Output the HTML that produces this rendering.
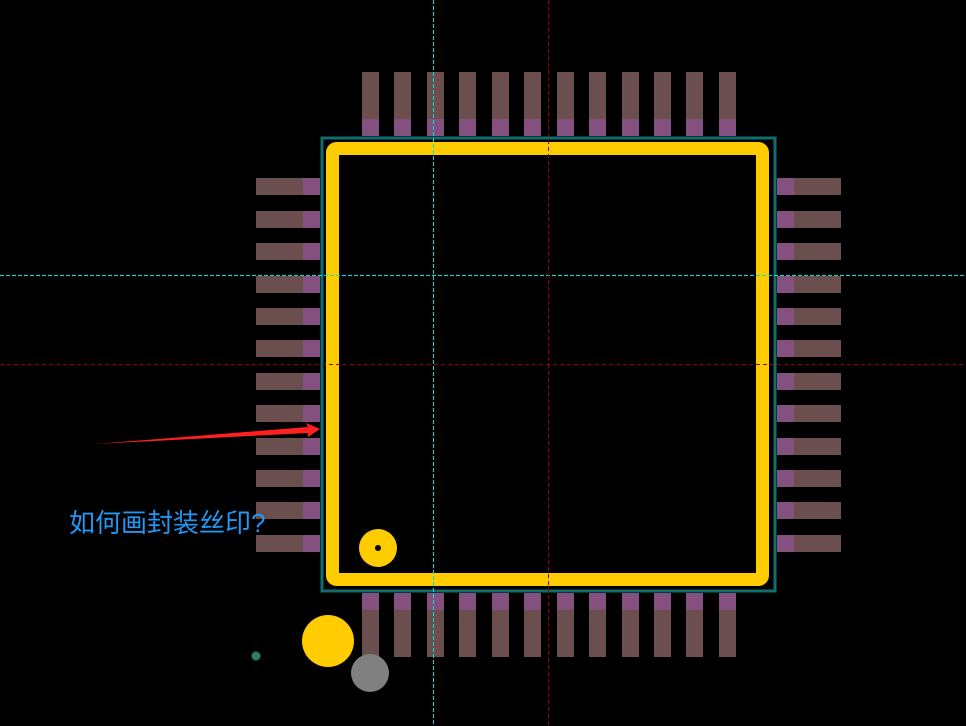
<!DOCTYPE html>
<html><head><meta charset="utf-8"><style>
html,body{margin:0;padding:0;background:#000;}
svg{display:block}
</style></head><body>
<svg width="966" height="726" viewBox="0 0 966 726" xmlns="http://www.w3.org/2000/svg">
<defs>
<g id="vp"><rect x="0" y="0" width="17" height="64" fill="#6b4f4f"/><rect x="0" y="47" width="17" height="17" fill="#84507f"/></g>
<g id="vb"><rect x="0" y="0" width="17" height="64" fill="#6b4f4f"/><rect x="0" y="0" width="17" height="17" fill="#84507f"/></g>
<g id="hl"><rect x="0" y="0" width="64" height="17" fill="#6b4f4f"/><rect x="47" y="0" width="17" height="17" fill="#84507f"/></g>
<g id="hr"><rect x="0" y="0" width="64" height="17" fill="#6b4f4f"/><rect x="0" y="0" width="17" height="17" fill="#84507f"/></g>
</defs>
<rect width="966" height="726" fill="#000"/>
<g transform="translate(0,72)">
<use href="#vp" x="362"/><use href="#vp" x="394"/><use href="#vp" x="427"/><use href="#vp" x="459"/><use href="#vp" x="492"/><use href="#vp" x="524"/><use href="#vp" x="557"/><use href="#vp" x="589"/><use href="#vp" x="622"/><use href="#vp" x="654"/><use href="#vp" x="686"/><use href="#vp" x="719"/>
</g>
<g transform="translate(0,593)">
<use href="#vb" x="362"/><use href="#vb" x="394"/><use href="#vb" x="427"/><use href="#vb" x="459"/><use href="#vb" x="492"/><use href="#vb" x="524"/><use href="#vb" x="557"/><use href="#vb" x="589"/><use href="#vb" x="622"/><use href="#vb" x="654"/><use href="#vb" x="686"/><use href="#vb" x="719"/>
</g>
<g transform="translate(256,0)">
<use href="#hl" y="178"/><use href="#hl" y="211"/><use href="#hl" y="243"/><use href="#hl" y="276"/><use href="#hl" y="308"/><use href="#hl" y="340"/><use href="#hl" y="373"/><use href="#hl" y="405"/><use href="#hl" y="438"/><use href="#hl" y="470"/><use href="#hl" y="502"/><use href="#hl" y="535"/>
</g>
<g transform="translate(777,0)">
<use href="#hr" y="178"/><use href="#hr" y="211"/><use href="#hr" y="243"/><use href="#hr" y="276"/><use href="#hr" y="308"/><use href="#hr" y="340"/><use href="#hr" y="373"/><use href="#hr" y="405"/><use href="#hr" y="438"/><use href="#hr" y="470"/><use href="#hr" y="502"/><use href="#hr" y="535"/>
</g>
<rect x="322" y="138" width="453" height="453" fill="none" stroke="#0f6e6e" stroke-width="3"/>
<rect x="332.5" y="148.5" width="430" height="431" rx="4" fill="none" stroke="#ffcc00" stroke-width="13"/>
<line x1="433.5" y1="0" x2="433.5" y2="726" stroke="#00e0e0" stroke-width="1" stroke-dasharray="4,2"/>
<line x1="0" y1="275.5" x2="966" y2="275.5" stroke="#00e0e0" stroke-width="1" stroke-dasharray="4,2"/>
<line x1="548.5" y1="0" x2="548.5" y2="726" stroke="#9a0000" stroke-width="1" stroke-dasharray="4,3"/>
<line x1="0" y1="364.5" x2="966" y2="364.5" stroke="#9a0000" stroke-width="1" stroke-dasharray="4,3"/>
<circle cx="378" cy="548" r="19" fill="#ffcc00"/>
<circle cx="378" cy="548" r="3" fill="#000"/>
<circle cx="328" cy="641" r="26" fill="#ffcc00"/>
<circle cx="370" cy="673" r="19" fill="#808080"/>
<circle cx="256" cy="656" r="4.5" fill="#2e7d5e"/>
<polygon points="95,444 308,427 306,423 320,429 308,437 308,433" fill="#ff2020"/>
<text x="69" y="532" font-family="'Liberation Sans','Noto Sans CJK SC',sans-serif" font-size="26" fill="#2196f3">如何画封装丝印?</text>
</svg>
</body></html>
